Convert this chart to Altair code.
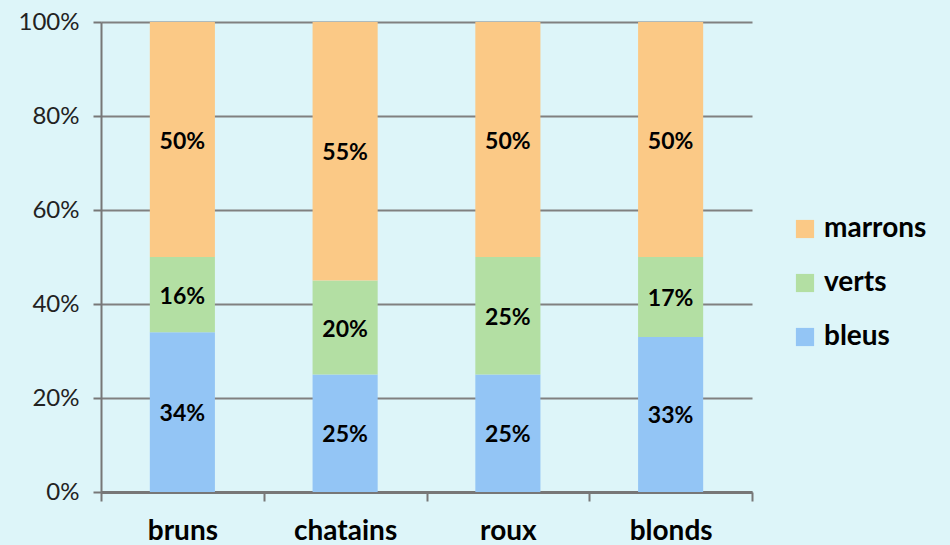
import altair as alt
import pandas as pd

categories = ["bruns", "chatains", "roux", "blonds"]
series = ["bleus", "verts", "marrons"]
bleus = [0.34, 0.25, 0.25, 0.33]
verts = [0.16, 0.20, 0.25, 0.17]
marrons = [0.50, 0.55, 0.50, 0.50]
colors = ["#93C5F5", "#B3DFA3", "#FBC986"]
BG = "#DDF5F9"

rows = []
for i, c in enumerate(categories):
    for k, (s, vals) in enumerate(zip(series, [bleus, verts, marrons])):
        rows.append({"cat": c, "serie": s, "value": vals[i], "ord": k})
df = pd.DataFrame(rows)

FONT = "Lato"
base = alt.Chart(df).transform_stack(
    stack="value", groupby=["cat"], sort=[alt.SortField("ord")], as_=["y0", "y1"]
).transform_calculate(mid="(datum.y0 + datum.y1) / 2")

xenc = alt.X("cat:N", sort=categories, title=None,
             scale=alt.Scale(paddingInner=0, paddingOuter=0),
             axis=alt.Axis(labelAngle=0, labelFont=FONT, labelFontSize=28, labelFontWeight="bold",
                           labelColor="#000", labelPadding=16, tickBand="extent", tickSize=9,
                           tickColor="#777", tickWidth=2, domainColor="#777", domainWidth=3,
                           grid=False))

bars = base.mark_bar(width=alt.RelativeBandSize(0.4)).encode(
    x=xenc,
    y=alt.Y("y0:Q", title=None, scale=alt.Scale(domain=[0, 1], nice=False),
            axis=alt.Axis(format=".0%", values=[0, 0.2, 0.4, 0.6, 0.8, 1.0], labelFont=FONT,
                          labelFontSize=24, labelColor="#222", labelPadding=14, tickSize=8,
                          tickColor="#777", tickWidth=2, domainColor="#777", domainWidth=2,
                          grid=True, gridColor="#808080", gridWidth=2)),
    y2="y1:Q",
    color=alt.Color("serie:N", scale=alt.Scale(domain=series, range=colors),
                    legend=alt.Legend(title=None, orient="none", legendX=690, legendY=193,
                                      symbolType="square", symbolSize=330, symbolStrokeWidth=0,
                                      labelFont=FONT, labelFontSize=28, labelFontWeight="bold",
                                      labelColor="#000", rowPadding=26, labelOffset=5,
                                      values=["marrons", "verts", "bleus"])),
    order=alt.Order("ord:Q"),
)

texts = base.mark_text(font=FONT, fontSize=23, fontWeight="bold", color="#000", dy=2).encode(
    x=alt.X("cat:N", sort=categories),
    y=alt.Y("mid:Q"),
    text=alt.Text("value:Q", format=".0%"),
)

chart = alt.layer(bars, texts).properties(
    width=651, height=470,
    autosize=alt.AutoSizeParams(type="none"),
    padding={"left": 93, "top": 14, "right": 190, "bottom": 70},
    background=BG,
).configure_view(stroke=None)

chart.save("out.html", embed_options={"renderer": "svg", "actions": False})

with open("out.html", encoding="utf-8") as f:
    html = f.read()
html = html.replace("<head>", "<head>\n<style>html,body{background:%s;overflow:hidden;}</style>" % BG, 1)
with open("out.html", "w", encoding="utf-8") as f:
    f.write(html)
